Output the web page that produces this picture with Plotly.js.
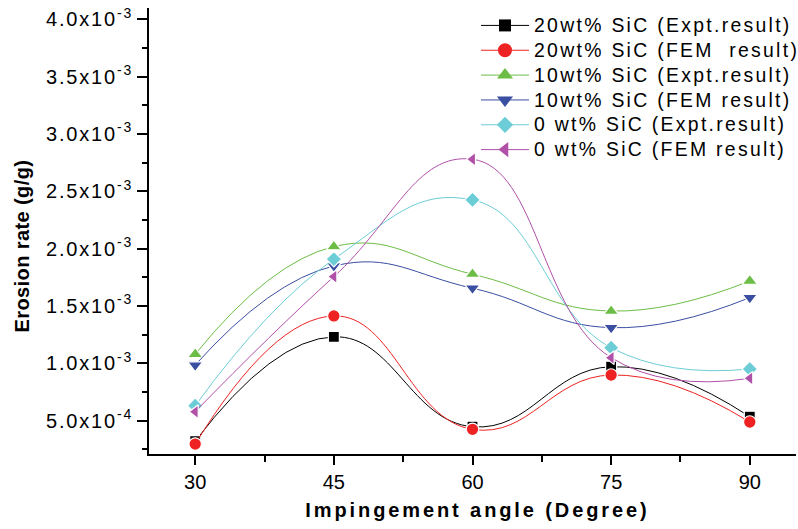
<!DOCTYPE html>
<html>
<head>
<meta charset="utf-8">
<script src="https://cdn.plot.ly/plotly-3.0.1.min.js"></script>
<style>
  html, body { margin: 0; padding: 0; background: #fff; }
  #chart { width: 798px; height: 529px; }
  .legendtext { font-size: 19.4px !important; letter-spacing: 2.3px; }
  .ytick text { letter-spacing: 1.8px; }
</style>
</head>
<body>
<div id="chart"></div>
<script>
// ---- data ----
const angles = [30, 45, 60, 75, 90];
const sic20Expt = [0.320e-3, 1.230e-3, 0.446e-3, 0.969e-3, 0.533e-3];
const sic20Fem  = [0.295e-3, 1.412e-3, 0.423e-3, 0.897e-3, 0.487e-3];
const sic10Expt = [1.078e-3, 2.017e-3, 1.776e-3, 1.455e-3, 1.717e-3];
const sic10Fem  = [0.984e-3, 1.848e-3, 1.654e-3, 1.310e-3, 1.572e-3];
const sic0Expt  = [0.629e-3, 1.907e-3, 2.424e-3, 1.135e-3, 0.949e-3];
const sic0Fem   = [0.577e-3, 1.755e-3, 2.779e-3, 1.048e-3, 0.868e-3];

const seriesNames = [
  '20wt% SiC (Expt.result)',
  '20wt% SiC (FEM  result)',
  '10wt% SiC (Expt.result)',
  '10wt% SiC (FEM result)',
  '0 wt% SiC (Expt.result)',
  '0 wt% SiC (FEM result)'
];
const yTickVals = [0.5e-3, 1.0e-3, 1.5e-3, 2.0e-3, 2.5e-3, 3.0e-3, 3.5e-3, 4.0e-3];
const yTickText = ['5.0x10<sup>-4</sup>', '1.0x10<sup>-3</sup>', '1.5x10<sup>-3</sup>', '2.0x10<sup>-3</sup>',
                   '2.5x10<sup>-3</sup>', '3.0x10<sup>-3</sup>', '3.5x10<sup>-3</sup>', '4.0x10<sup>-3</sup>'];
const xTickVals = [30, 45, 60, 75, 90];
const xTitle = 'Impingement angle (Degree)';
const yTitle = 'Erosion rate (g/g)';

const seriesValues = [sic20Expt, sic20Fem, sic10Expt, sic10Fem, sic0Expt, sic0Fem];
const colors = ['#000000', '#ee2222', '#6cbd45', '#3a4ea2', '#6ccdd6', '#b050a8'];
const symbols = ['square', 'circle', 'triangle-up', 'triangle-down', 'diamond', 'triangle-left'];
const sizes = [11, 12.5, 13, 13, 12, 12];
const legendSizes = [12, 14, 14, 14, 12.5, 13];

const FONT = '"Liberation Sans", Arial, Helvetica, sans-serif';

const dataTraces = seriesValues.map((vals, i) => ({
  type: 'scatter',
  mode: 'lines+markers',
  x: angles,
  y: vals,
  name: seriesNames[i],
  showlegend: false,
  line: { color: colors[i], width: 1, shape: 'spline', smoothing: 1.3 },
  marker: { symbol: symbols[i], size: sizes[i], color: colors[i],
            line: { color: '#ffffff', width: 1.2 } }
}));

// legend entries (no marks drawn in the plot)
const legendTraces = seriesNames.map((nm, i) => ({
  type: 'scatter',
  mode: 'lines+markers',
  x: [null],
  y: [null],
  name: nm,
  showlegend: true,
  line: { color: colors[i], width: 1 },
  marker: { symbol: symbols[i], size: legendSizes[i], color: colors[i],
            line: { color: '#ffffff', width: 0 } }
}));

const layout = {
  width: 798,
  height: 529,
  margin: { l: 149, r: 2, t: 8, b: 75, autoexpand: false },
  paper_bgcolor: '#ffffff',
  plot_bgcolor: '#ffffff',
  font: { family: FONT, color: '#000000', size: 20 },
  showlegend: true,
  legend: {
    x: 0.5054, xanchor: 'left',
    y: 1.0, yanchor: 'top',
    bgcolor: 'rgba(0,0,0,0)',
    borderwidth: 0,
    itemwidth: 48,
    font: { family: FONT, size: 16.8, color: '#000000' },
    tracegroupgap: 0
  },
  xaxis: {
    range: [25, 95],
    tickvals: xTickVals,
    ticks: 'outside', ticklen: 9, tickwidth: 2, tickcolor: '#000',
    showline: true, linewidth: 2, linecolor: '#000',
    showgrid: false, zeroline: false,
    tickfont: { family: FONT, size: 20, color: '#000' },
    minor: { dtick: 7.5, tick0: 30, ticks: 'outside', ticklen: 6, tickwidth: 2, tickcolor: '#000', showgrid: false },
    automargin: false
  },
  yaxis: {
    range: [0.208e-3, 4.098e-3],
    tickvals: yTickVals,
    ticktext: yTickText,
    ticks: 'outside', ticklen: 10, tickwidth: 2, tickcolor: '#000',
    showline: true, linewidth: 2, linecolor: '#000',
    showgrid: false, zeroline: false,
    tickfont: { family: FONT, size: 20, color: '#000' },
    minor: { dtick: 0.25e-3, tick0: 0, ticks: 'outside', ticklen: 5, tickwidth: 2, tickcolor: '#000', showgrid: false },
    automargin: false
  },
  xaxis2: {
    overlaying: 'x', side: 'top', anchor: 'y',
    range: [25, 95], tickvals: xTickVals,
    ticks: 'inside', ticklen: 3, tickwidth: 1, tickcolor: '#000',
    showticklabels: false, showline: true, linewidth: 1, linecolor: '#000',
    showgrid: false, zeroline: false, automargin: false
  },
  yaxis2: {
    overlaying: 'y', side: 'right', anchor: 'x',
    range: [0.208e-3, 4.098e-3],
    ticks: '', showticklabels: false, showline: true, linewidth: 1, linecolor: '#000',
    showgrid: false, zeroline: false, automargin: false
  },
  annotations: [
    { text: yTitle, xref: 'paper', yref: 'paper', x: -0.1963, y: 0.4667,
      xanchor: 'center', yanchor: 'middle', textangle: -90, showarrow: false,
      font: { family: FONT, size: 20, weight: 'bold', color: '#000' } },
    { text: xTitle, xref: 'paper', yref: 'paper', x: 0.5077, y: -0.1257,
      xanchor: 'center', yanchor: 'middle', showarrow: false,
      font: { family: FONT, size: 20, weight: 'bold', color: '#000' } }
  ]
};

Plotly.newPlot('chart', dataTraces.concat(legendTraces), layout, { staticPlot: true, displayModeBar: false }).then(() => {
  const ann = document.querySelectorAll('.annotation-text');
  if (ann.length > 1) {
    ann[1].style.letterSpacing = '2.9px';
    ann[0].style.letterSpacing = '0.4px';
  }
});
</script>
</body>
</html>
